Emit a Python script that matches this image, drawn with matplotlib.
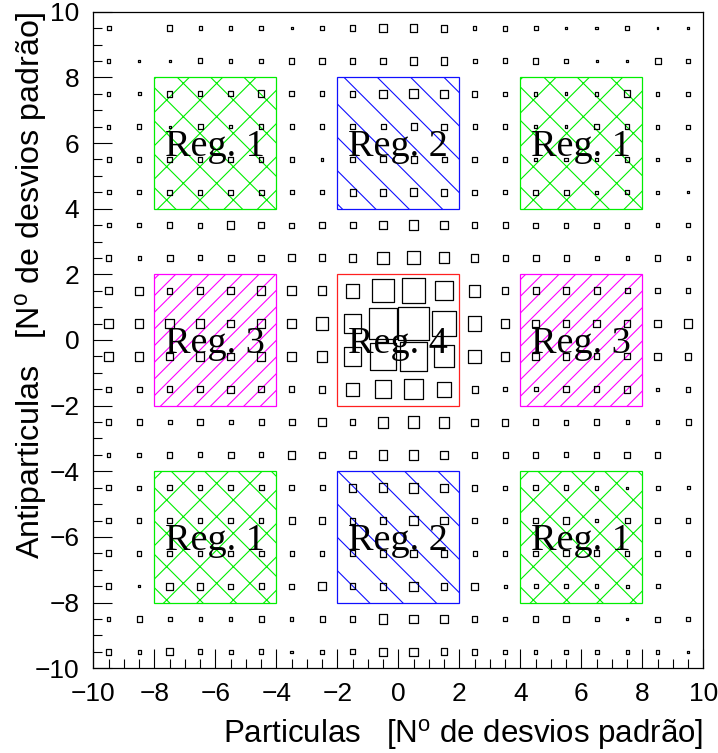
import numpy as np
import matplotlib.pyplot as plt
from matplotlib.patches import Rectangle
from matplotlib.collections import PatchCollection
from matplotlib.ticker import MultipleLocator

plt.rcParams['font.family'] = ['Liberation Sans', 'DejaVu Sans']
plt.rcParams['mathtext.default'] = 'regular'
plt.rcParams['hatch.linewidth'] = 0.8

# bin centres (1 sigma bins), rows listed from top (y=9.5) to bottom (y=-9.5)
x_centres = np.arange(-9.5, 10, 1.0)
y_centres = np.arange(9.5, -10, -1.0)

counts = np.array([
    [4, 0, 5, 3, 3, 4, 2, 4, 5.5, 7, 7.5, 6.5, 3, 4.5, 4, 2.5, 2.5, 3.5, 1.5, 2.5],
    [3, 2.5, 2, 4.5, 3.5, 4, 5, 5.5, 5.5, 6, 7, 6.5, 4, 4.5, 5, 3.5, 2, 2.5, 6, 3.5],
    [3.5, 3, 5.5, 4.5, 4.5, 6, 4.5, 4.5, 5.5, 7, 8, 7, 5.5, 3.5, 3.5, 2.5, 3.5, 6, 3.5, 4],
    [3.5, 4, 2, 5, 3, 4.5, 4, 4.5, 4.5, 5, 6, 5.5, 4, 4, 2.5, 2.5, 4.5, 4.5, 3.5, 3.5],
    [4, 4, 4.5, 4.5, 4.5, 4.5, 4, 2, 5, 5.5, 6, 5, 5, 4.5, 2.5, 3.5, 3.5, 4, 3.5, 3.5],
    [4, 4, 4.5, 4.5, 4.5, 5, 4, 4, 6, 6.5, 7, 6, 5, 4, 5, 5, 2.5, 4, 2.5, 2],
    [4, 4, 5.5, 4.5, 7, 6, 4.5, 5.5, 6, 8, 8.5, 7.5, 5, 5, 4.5, 4.5, 4.5, 4.5, 3.5, 4],
    [5, 3, 6, 4.5, 6, 5.5, 6.5, 6.5, 7.5, 11, 12, 10, 7, 5, 6, 5, 4, 3, 5, 3],
    [6.5, 7, 5.5, 6.5, 6.5, 8, 8, 8.5, 12.5, 21, 23, 17, 11, 6.5, 6, 6, 6, 5, 5, 4.5],
    [8.5, 8, 8.5, 8.5, 7, 8.5, 8.5, 12, 17, 28, 30, 23, 13, 8.5, 7, 6.5, 6.5, 6.5, 7, 8],
    [8, 8, 7, 8, 7, 8, 8.5, 10, 17, 25, 27, 20, 12, 8.5, 6.5, 6.5, 5.5, 5.5, 6.5, 6],
    [5, 5, 5.5, 5.5, 6.5, 5.5, 5.5, 6, 12, 16, 18, 14, 6, 4, 4, 5.5, 5.5, 6, 3, 4.5],
    [5, 5, 4, 5.5, 4, 5, 6, 7, 5.5, 10, 11, 10, 6.5, 6.5, 5, 4.5, 5.5, 3, 3, 5],
    [3, 3.5, 5, 4.5, 6, 4.5, 7, 6, 6.5, 8.5, 9.5, 8, 5, 5, 5.5, 4.5, 5, 5.5, 5, 0],
    [4.5, 3.5, 5, 4.5, 4.5, 5, 4.5, 5, 7, 8, 9.5, 7, 5.5, 4, 4.5, 4.5, 3.5, 2, 4, 3],
    [4.5, 4, 4.5, 4.5, 5, 4.5, 6, 6.5, 5.5, 6.5, 8, 7, 4.5, 4, 4.5, 6.5, 3.5, 5, 5, 4.5],
    [5.5, 4, 5, 4.5, 4.5, 5, 4, 4, 5.5, 6.5, 6.5, 6.5, 4, 4, 4.5, 5.5, 5.5, 4, 5, 4.5],
    [5.5, 2, 6.5, 6.5, 4.5, 5, 4.5, 7, 5.5, 6.5, 8, 6.5, 6.5, 3, 4, 4, 3.5, 3, 4, 0],
    [3, 5, 4, 3, 3, 5, 3, 5, 5, 8.5, 8, 7, 5.5, 3.5, 5, 5.5, 4, 2, 4.5, 3.5],
    [5, 3, 6.5, 4.5, 4, 4.5, 2.5, 4, 4.5, 8, 8, 6.5, 5, 3.5, 3.5, 3.5, 4, 3, 3, 2],
])

# regions (lower-left corner, 4x4 sigma) and their number
reg_x0 = [-8, -2, 4, -8, -2, 4, -8, -2, 4]
reg_y0 = [4, 4, 4, -2, -2, -2, -8, -8, -8]
reg_num = [1, 2, 1, 3, 4, 3, 1, 2, 1]

reg_color = {1: '#00ee00', 2: '#1010ff', 3: '#ff00ff', 4: '#ff2020'}
reg_hatch = {1: 'x', 2: '\\', 3: '//', 4: None}

fig = plt.figure(figsize=(7.18, 7.53), dpi=100)
ax = fig.add_axes([93.3 / 718, 1 - 668.3 / 753, 610 / 718, 656.6 / 753])

for x0, y0, n in zip(reg_x0, reg_y0, reg_num):
    ax.add_patch(Rectangle((x0, y0), 4, 4, facecolor='none', edgecolor=reg_color[n],
                           hatch=reg_hatch[n], lw=0.9, zorder=1))

# box plot: side proportional to bin content
boxes = []
side = counts / counts.max()
for i, yc in enumerate(y_centres):
    for j, xc in enumerate(x_centres):
        s = side[i, j]
        if s > 0:
            boxes.append(Rectangle((xc - s / 2, yc - s / 2), s, s))
ax.add_collection(PatchCollection(boxes, facecolor='none', edgecolor='black', lw=0.9, zorder=2))

for x0, y0, n in zip(reg_x0, reg_y0, reg_num):
    ax.text(x0 + 2, y0 + 1.6, f'Reg. {n}', ha='center', va='baseline', fontsize=27.5,
            family=['Liberation Serif', 'DejaVu Serif'], zorder=3)

ax.set_xlim(-10, 10)
ax.set_ylim(-10, 10)
for axis in (ax.xaxis, ax.yaxis):
    axis.set_major_locator(MultipleLocator(2))
    axis.set_minor_locator(MultipleLocator(0.5))
ax.tick_params(which='both', direction='in', top=False, right=False, width=0.8)
ax.tick_params(which='major', length=14, labelsize=19, pad=10)
ax.tick_params(which='minor', length=6.5)
for sp in ax.spines.values():
    sp.set_linewidth(0.9)

ax.set_xlabel('Particulas   [N$^{o}$ de desvios padrão]', fontsize=22.5, loc='right')
ax.xaxis.set_label_coords(1.0, -0.074)
ax.set_ylabel('Antiparticulas   [N$^{o}$ de desvios padrão]', fontsize=23.2, loc='top')
ax.yaxis.set_label_coords(-0.071, 1.0)

fig.savefig('out.png', dpi=100)
